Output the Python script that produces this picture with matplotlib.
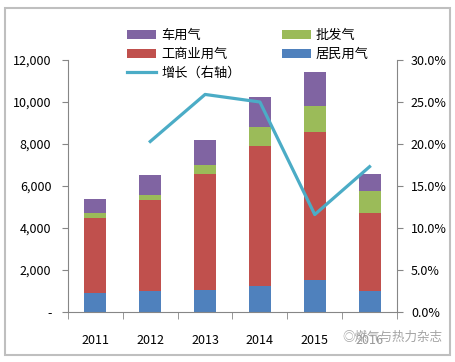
import numpy as np
import matplotlib
matplotlib.use('Agg')
import matplotlib.pyplot as plt
from matplotlib.patches import Rectangle
from matplotlib.ticker import FuncFormatter

plt.rcParams['font.family'] = ['Noto Sans CJK SC', 'DejaVu Sans']

# 数据
years = ['2011', '2012', '2013', '2014', '2015', '2016']
jumin = [890, 1000, 1030, 1240, 1510, 1000]          # 居民用气
gongshang = [3600, 4330, 5560, 6680, 7080, 3730]     # 工商业用气
pifa = [220, 240, 410, 910, 1220, 1030]              # 批发气
cheyong = [690, 940, 1210, 1420, 1630, 810]          # 车用气
growth_years = [1, 2, 3, 4, 5]
growth = [20.3, 25.9, 25.0, 11.6, 17.3]              # 增长（右轴）, %

c_jumin = '#4F81BD'
c_gs = '#C0504D'
c_pifa = '#9BBB59'
c_che = '#8064A2'
c_line = '#4BACC6'
c_axis = '#868686'

fig = plt.figure(figsize=(4.55, 3.62), dpi=100)
ax = fig.add_axes([68/455, 1-312/362, (397-68)/455, (312-60)/362])

x = np.arange(len(years))
w = 0.4
b1 = np.array(jumin)
b2 = b1 + np.array(gongshang)
b3 = b2 + np.array(pifa)
h1 = ax.bar(x, jumin, w, color=c_jumin, label='居民用气')
h2 = ax.bar(x, gongshang, w, bottom=b1, color=c_gs, label='工商业用气')
h3 = ax.bar(x, pifa, w, bottom=b2, color=c_pifa, label='批发气')
h4 = ax.bar(x, cheyong, w, bottom=b3, color=c_che, label='车用气')

ax.set_xlim(-0.5, 5.5)
ax.set_ylim(0, 12000)
ax.set_yticks(np.arange(0, 12001, 2000))
ax.yaxis.set_major_formatter(FuncFormatter(lambda v, p: '-' if v == 0 else '{:,.0f}'.format(v)))
ax.set_xticks(x)
ax.set_xticklabels(years)
ax.set_xticks(np.arange(-0.5, 6, 1), minor=True)
ax.tick_params(axis='x', which='major', length=0, pad=16, labelsize=9)
ax.tick_params(axis='x', which='minor', length=5, color=c_axis, direction='out')
ax.tick_params(axis='y', length=4, color=c_axis, labelsize=9, pad=8)

ax2 = ax.twinx()
h5, = ax2.plot(growth_years, growth, color=c_line, lw=2.3, label='增长（右轴）')
ax2.set_ylim(0, 30)
ax2.set_yticks(np.arange(0, 31, 5))
ax2.yaxis.set_major_formatter(FuncFormatter(lambda v, p: '{:.1f}%'.format(v)))
ax2.tick_params(axis='y', length=4, color=c_axis, labelsize=9, pad=6)

for a in (ax, ax2):
    a.spines['top'].set_visible(False)
    for s in ('left', 'right', 'bottom'):
        a.spines[s].set_color(c_axis)
ax.spines['right'].set_visible(False)
ax2.spines['left'].set_visible(False)
ax2.spines['bottom'].set_visible(False)

# 水印
fig.text(392/455, 1-337/362, '◎燃气与热力杂志', ha='center', va='center', fontsize=9,
         color='#9a9a9a', alpha=0.9,
         bbox=dict(facecolor='white', edgecolor='none', alpha=0.6, pad=0))

leg = fig.legend(handles=[h4, h2, h5, h3, h1],
                 labels=['车用气', '工商业用气', '增长（右轴）', '批发气', '居民用气'],
                 ncol=2, loc='upper left', bbox_to_anchor=(115/455, 1-17/362), frameon=False,
                 fontsize=9.5, handlelength=2.2, handleheight=0.7, columnspacing=3.1,
                 labelspacing=0.45, handletextpad=0.4)

fig.patches.append(Rectangle((5/455, 7/362), 445/455, 347/362, transform=fig.transFigure,
                             fill=False, edgecolor='#BFBFBF', lw=1.5))

fig.savefig('out.png', dpi=100)
